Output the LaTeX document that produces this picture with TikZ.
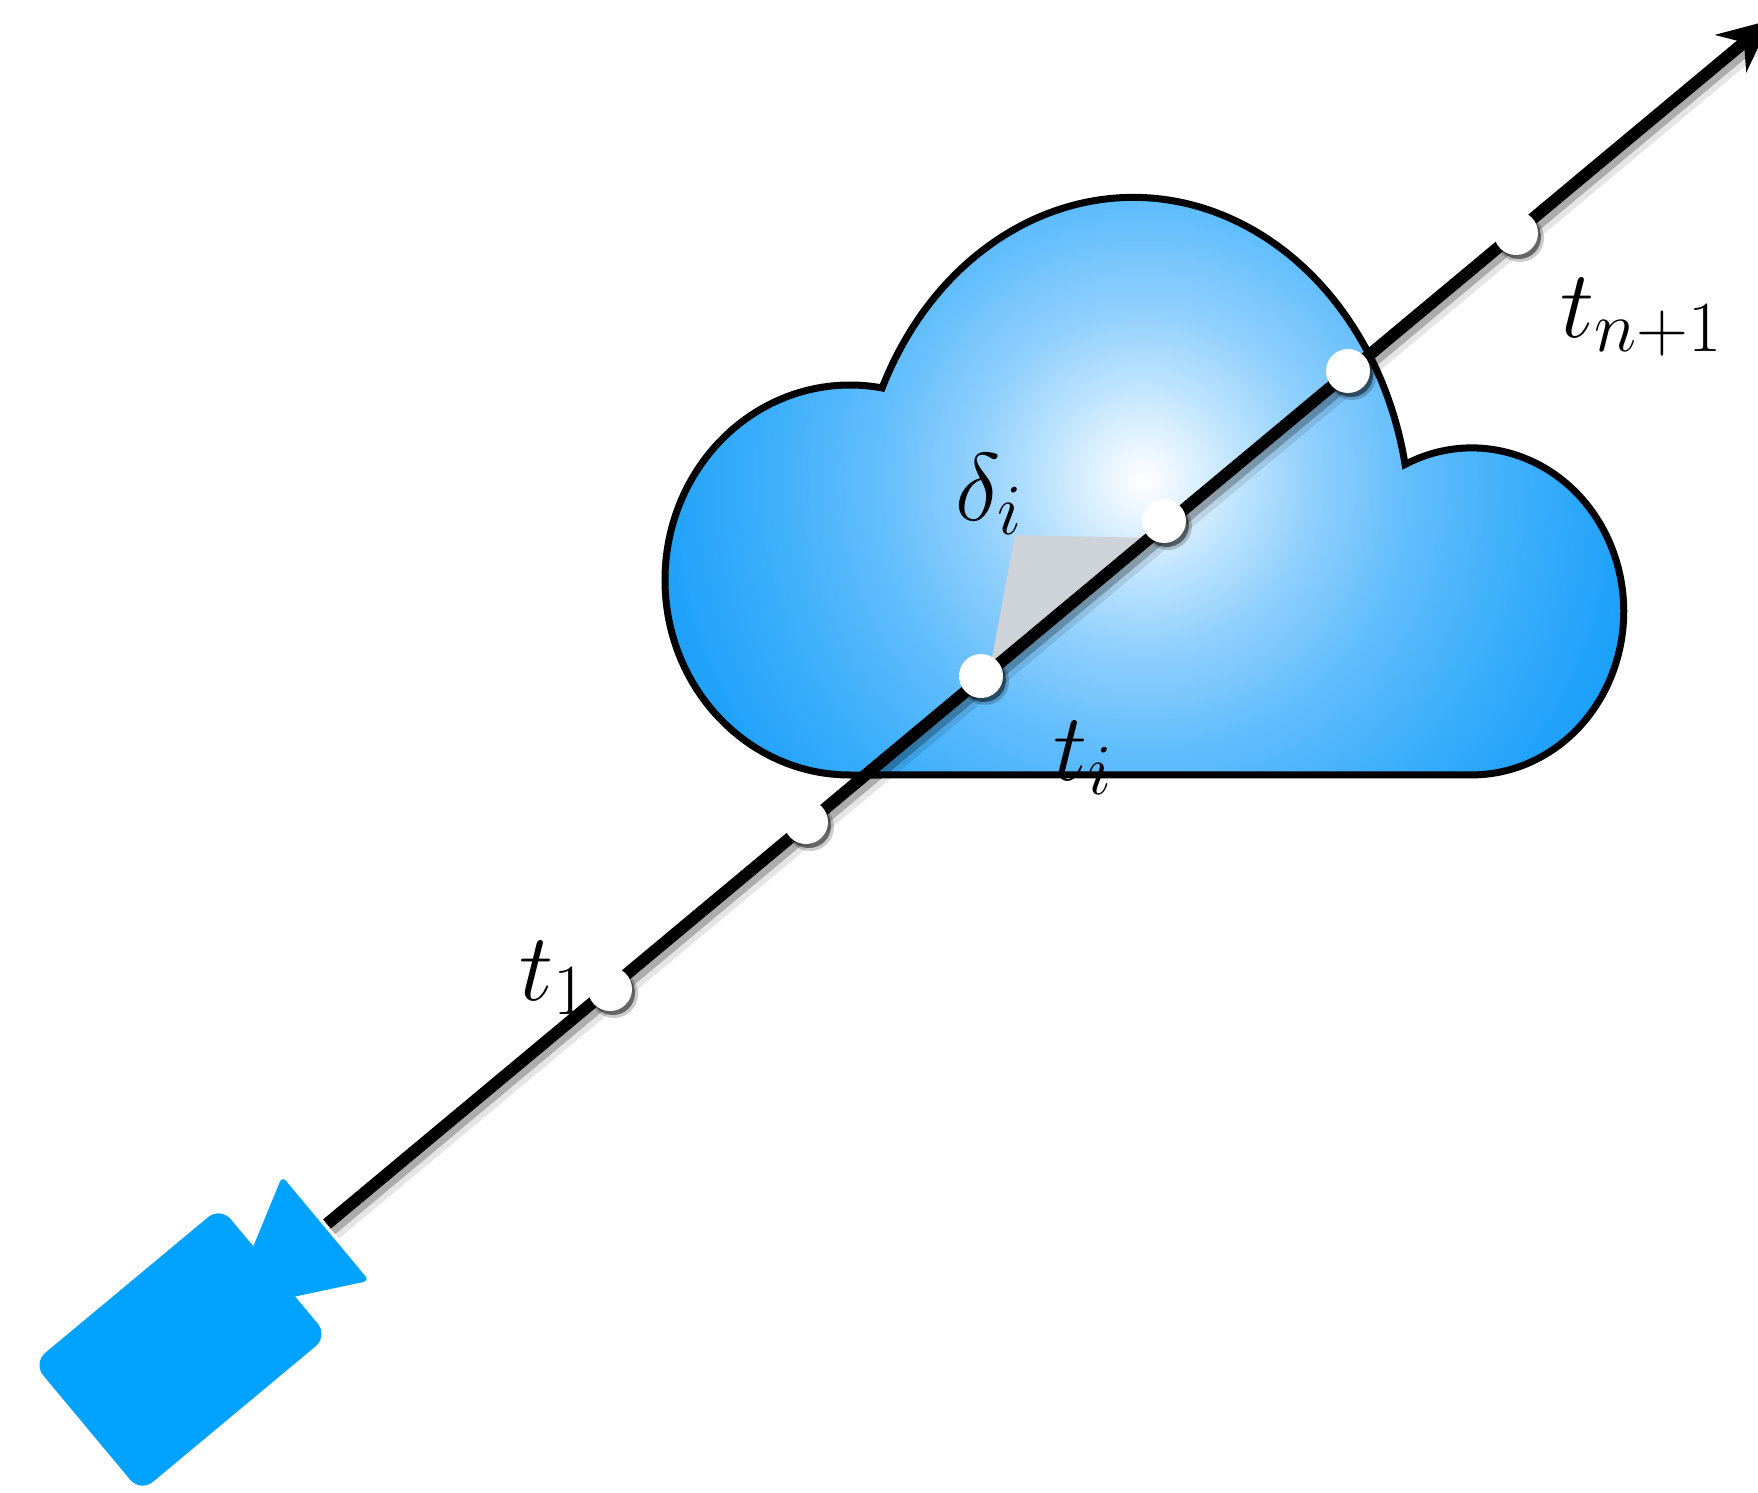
\RequirePackage{fix-cm}
\documentclass[tikz,border=0pt]{standalone}
\usetikzlibrary{arrows.meta,calc}

\DeclareMathSizes{48}{48}{36}{28}

\definecolor{camblue}{RGB}{0,162,255}
\definecolor{wedgegray}{RGB}{206,211,217}
\definecolor{glowa}{RGB}{240,248,255}
\definecolor{glowb}{RGB}{190,228,254}
\definecolor{glowc}{RGB}{145,208,253}
\definecolor{glowd}{RGB}{100,190,252}
\definecolor{glowe}{RGB}{66,177,251}
\definecolor{glowf}{RGB}{32,162,250}
\definecolor{glowg}{RGB}{20,155,250}

% bright core fading to deep blue towards the rim of the cloud
% (25bp is the radius of the shaded circle)
\pgfdeclareradialshading{cloudglow}{\pgfpoint{0bp}{0bp}}{%
  color(0bp)=(white); color(1bp)=(glowa); color(4bp)=(glowb);
  color(7bp)=(glowc); color(11bp)=(glowd); color(15bp)=(glowe);
  color(20bp)=(glowf); color(25bp)=(glowg); color(50bp)=(glowg)}

\tikzset{
  ray/.style={line width=6pt},
  raysh/.style={line width=8pt, black, opacity=0.25},
  sample/.style={fill=white},
  samplesh/.style={fill=black, opacity=0.5},
  lbl/.style={inner sep=0pt, anchor=base west, font=\fontsize{48}{58}\selectfont},
}

\begin{document}
\begin{tikzpicture}[x=0.5pt, y=-0.5pt]
  \useasboundingbox (0,0) rectangle (1758,1493);

  % cloud: three elliptic lobes on a flat base
  \path[draw=black, line width=3.5pt,
        path picture={\shade[shading=cloudglow] (1143,480) circle (600);}]
    (850,775) arc[start angle=90, end angle=280, x radius=185, y radius=195]
              arc[start angle=205, end angle=349, x radius=277, y radius=330]
              arc[start angle=244, end angle=450, x radius=152, y radius=163.5]
    -- cycle;

  % ray end points and sample positions
  \coordinate (eye) at (327,1224);
  \coordinate (far) at (1771,20);
  \coordinate (p1) at (610,989);
  \coordinate (p2) at (806,822);
  \coordinate (p3) at (981,676);
  \coordinate (p4) at (1164,521);
  \coordinate (p5) at (1348,371);
  \coordinate (p6) at (1516,233);
  \coordinate (apex) at (1015,535);
  \coordinate (rim) at (1150,538);
  \coordinate (foot) at (989,673);

  % step between two samples
  \fill[wedgegray] (apex) -- (rim) -- (foot) -- cycle;

  \node[lbl] (delta) at (955,520) {$\delta_i$};
  \node[lbl] (ti) at (1053,780) {$t_i$};
  \node[lbl] (t1) at (519,1000) {$t_1$};
  \node[lbl] (tn) at (1560,337) {$t_{n+1}$};

  % ray with soft shadow
  \draw[raysh] ($(eye)+(3,4)$) -- ($(far)+(3,4)$);
  \draw[raysh, line width=11pt, opacity=0.1] ($(eye)+(5,6)$) -- ($(far)+(5,6)$);
  \draw[ray, -{Stealth[length=26pt, width=24pt]}] (eye) -- (far);

  \foreach \i in {1,...,6} {
    \fill[samplesh, opacity=0.2] ($(p\i)+(4,5)$) circle (24);
    \fill[samplesh] ($(p\i)+(3,4)$) circle (22);
    \fill[sample] (p\i) circle (22);
  }

  % camera
  \begin{scope}[shift={(180.5,1349.5)}, rotate=39.8]
    \fill[camblue, rounded corners=8pt]
      (-122,-84) -- (122,-84) -- (122,84) -- (-122,84) -- cycle;
    \fill[camblue, rounded corners=3pt] (60,0) -- (189,-68) -- (189,68) -- cycle;
  \end{scope}
\end{tikzpicture}
\end{document}
